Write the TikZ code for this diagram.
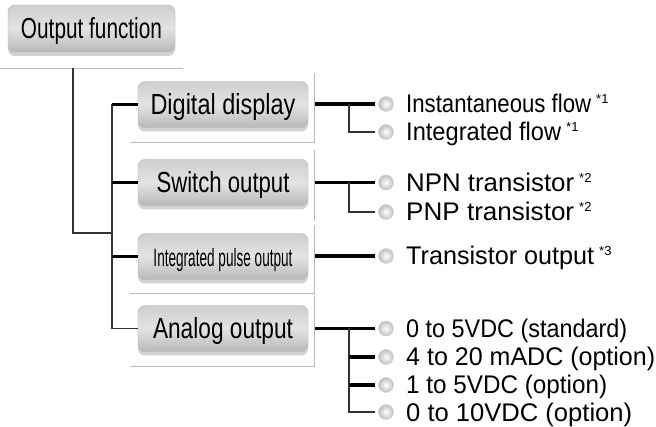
\documentclass[tikz,border=0pt]{standalone}
\usepackage{fontspec}
\setmainfont{Liberation Sans}
\usetikzlibrary{shadows}
\newcommand{\fw}[3]{\resizebox{#1pt}{\height}{\fontsize{#2}{#2}\selectfont #3}}
\newcommand{\note}[1]{\hspace{5pt}\raisebox{9pt}{\fontsize{13}{13}\selectfont #1}}
\begin{document}
\begin{tikzpicture}[x=1pt,y=-1pt,
  btn/.style={rounded corners=7pt, draw=gray!60, top color=gray!38, bottom color=gray!55, middle color=gray!22,
    minimum width=170pt, minimum height=46pt, inner sep=0pt, text height=20pt, text depth=0pt,
    drop shadow={shadow xshift=0pt,shadow yshift=-4pt,opacity=0.35}},
  frameline/.style={draw=gray!55, line width=0.8pt},
  connthin/.style={draw=black!80, line width=1.2pt},
  connthick/.style={draw=black, line width=3.5pt},
  dot/.style={circle, minimum size=15pt, inner sep=0pt, draw=gray!35, line width=0.5pt, shading=radial, inner color=white, outer color=gray!50},
  item/.style={anchor=base west, inner sep=0pt},
]
\useasboundingbox (0,0) rectangle (656,427);
\fill[white] (0,0) rectangle (656,427);

% frame lines
\draw[frameline] (0,68) -- (183,68);
\draw[frameline] (314,73) -- (314,142) -- (130,142);
\draw[frameline] (314,150) -- (314,221);
\draw[frameline] (314,225) -- (314,293) -- (130,293);
\draw[frameline] (314,296) -- (314,366) -- (130,366);

% boxes
\node[btn, minimum width=167pt, minimum height=47pt] (top) at (91.5,28.5) {\fw{141}{29}{Output function}};
\node[btn] (dd) at (223,104.5) {\fw{145}{29}{Digital display}};
\node[btn] (so) at (223,182.5) {\fw{133}{29}{Switch output}};
\node[btn] (po) at (223,256.5) {\fw{139}{25}{Integrated pulse output}};
\node[btn] (ao) at (223,328.5) {\fw{140}{29}{Analog output}};

% left tree
\coordinate (topfoot) at (73,68);
\coordinate (join) at (112,233);
\coordinate (trunk) at (112,104.5);
\draw[connthin] (topfoot) |- (join);
\draw[connthin] (trunk) |- (ao.west);
\draw[connthick] (trunk) -- (dd.west);
\draw[connthick] (so.west -| trunk) -- (so.west);
\draw[connthick] (po.west -| trunk) -- (po.west);

% bullets
\node[dot] (d1) at (386,104) {};
\node[dot] (d2) at (386,132) {};
\node[dot] (s1) at (386,182.5) {};
\node[dot] (s2) at (386,212) {};
\node[dot] (p1) at (386,256) {};
\node[dot] (a1) at (386,328.5) {};
\node[dot] (a2) at (386,357) {};
\node[dot] (a3) at (386,385) {};
\node[dot] (a4) at (386,412) {};

% right connectors
\coordinate (dj) at (349,104);
\coordinate (sj) at (349,182.5);
\coordinate (aj) at (349,328.5);
\draw[connthick, shorten >=3pt] ([xshift=7pt]dd.east |- d1) -- (d1.west);
\draw[connthin, shorten >=3pt] (dj) |- (d2.west);
\draw[connthick, shorten >=3pt] ([xshift=7pt]so.east |- s1) -- (s1.west);
\draw[connthin, shorten >=3pt] (sj) |- (s2.west);
\draw[connthick, shorten >=3pt] ([xshift=7pt]po.east |- p1) -- (p1.west);
\draw[connthick, shorten >=3pt] ([xshift=7pt]ao.east |- a1) -- (a1.west);
\draw[connthin, shorten >=3pt] (aj) |- (a4.west);
\draw[connthick, shorten >=3pt] (aj |- a2) -- (a2.west);
\draw[connthick, shorten >=3pt] (aj |- a3) -- (a3.west);

% item texts
\node[item] (td1) at (406,113) {\fw{185}{25.5}{Instantaneous flow}\note{*1}};
\node[item] (td2) at (406,141) {\fw{155}{25.5}{Integrated flow}\note{*1}};
\node[item] (ts1) at (406,191.5) {\fw{168}{25.5}{NPN transistor}\note{*2}};
\node[item] (ts2) at (406,221) {\fw{168}{25.5}{PNP transistor}\note{*2}};
\node[item] (tp1) at (406,265) {\fw{188}{25.5}{Transistor output}\note{*3}};
\node[item] (ta1) at (406,337.5) {\fw{221}{25.5}{0 to 5VDC (standard)}};
\node[item] (ta2) at (406,366) {\fw{249}{25.5}{4 to 20 mADC (option)}};
\node[item] (ta3) at (406,394) {\fw{201}{25.5}{1 to 5VDC (option)}};
\node[item] (ta4) at (406,421) {\fw{226}{25.5}{0 to 10VDC (option)}};
\end{tikzpicture}
\end{document}
